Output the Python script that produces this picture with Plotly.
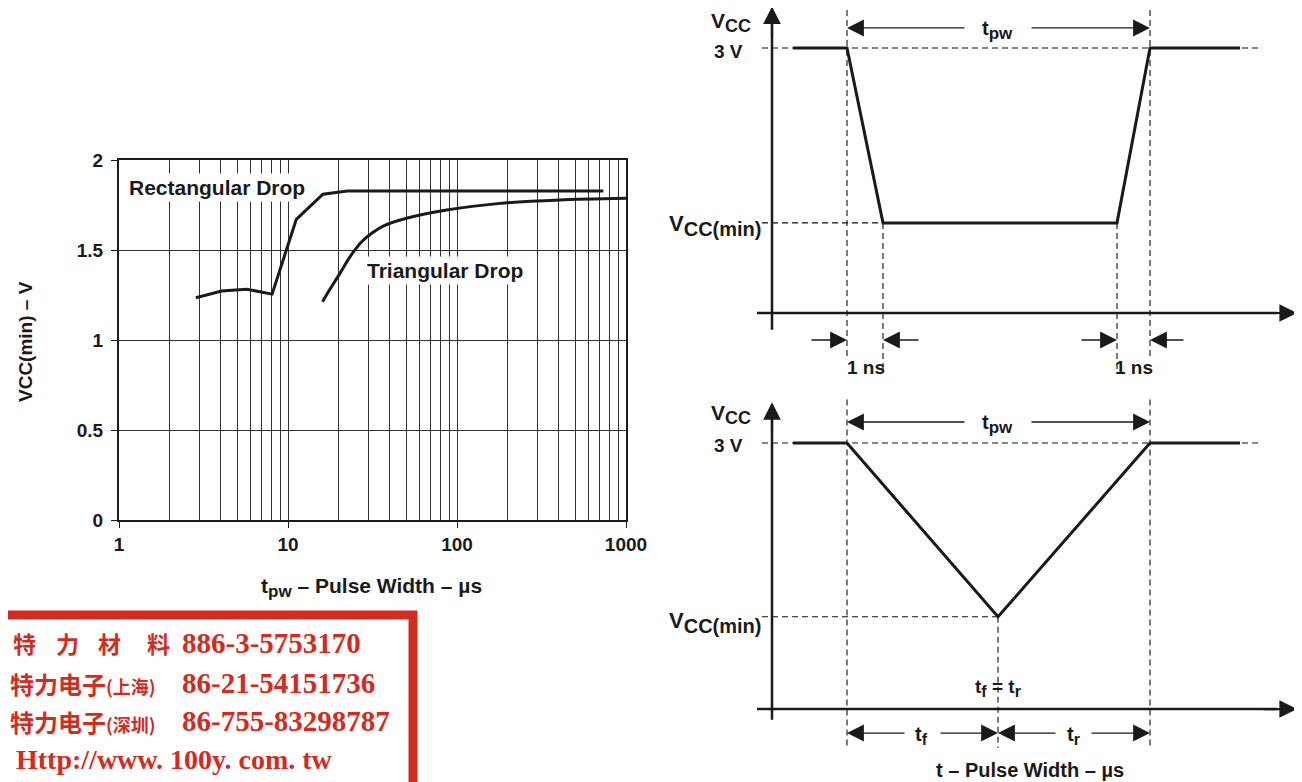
import plotly.graph_objects as go

W, H = 1302, 782
OX, OY = 8, 8  # page offset of the figure inside the browser window

# ---------------- Left chart data ----------------
rect_tpw = [2.85, 4.05, 5.7, 8.05, 11.2, 16.1, 22.5, 735]
rect_vcc = [1.235, 1.272, 1.282, 1.255, 1.67, 1.81, 1.828, 1.828]

tri_tpw = [16.0, 17.7, 20.3, 23.3, 27.3, 31.3, 36.6, 50.3, 86.9, 180, 406, 1000]
tri_vcc = [1.213, 1.282, 1.37, 1.463, 1.546, 1.593, 1.633, 1.676, 1.722, 1.759, 1.778, 1.787]

x_tickvals = [1, 10, 100, 1000]
x_ticktext = ["1", "10", "100", "1000"]
x_minor = [2, 3, 4, 5, 6, 7, 8, 9, 20, 30, 40, 50, 60, 70, 80, 90,
           200, 300, 400, 500, 600, 700, 800, 900]
y_tickvals = [0, 0.5, 1, 1.5, 2]
y_ticktext = ["0", "0.5", "1", "1.5", "2"]

# ---------------- Right diagrams data (time units / volts) ----------------
V_HIGH = 3.0
# top: rectangular drop
rect_wave_t = [21, 75, 111, 345, 378, 468]
rect_vmin = 1.02
rect_wave_v = [V_HIGH, V_HIGH, rect_vmin, rect_vmin, V_HIGH, V_HIGH]
# bottom: triangular drop
tri_wave_t = [21, 75, 226, 378, 468]
tri_vmin = 1.04
tri_wave_v = [V_HIGH, V_HIGH, tri_vmin, V_HIGH, V_HIGH]

T_AXIS_END = 525
T_PULSE_START, T_PULSE_END = 75, 378
T_RECT_FALL_END, T_RECT_RISE_START = 111, 345
T_TRI_MIN = 226

FONT = "Liberation Sans, Arial, sans-serif"
BLACK = "#1a1a1a"

fig = go.Figure()

# ---- left chart traces
fig.add_trace(go.Scatter(x=rect_tpw, y=rect_vcc, mode="lines",
                         line=dict(color=BLACK, width=3), xaxis="x", yaxis="y",
                         showlegend=False, hoverinfo="skip"))
fig.add_trace(go.Scatter(x=tri_tpw, y=tri_vcc, mode="lines",
                         line=dict(color=BLACK, width=3, shape="spline", smoothing=0.8),
                         xaxis="x", yaxis="y", showlegend=False, hoverinfo="skip"))

DASH = dict(color="#111", width=1.1, dash="6px,4px")


def dline(t, v, ax):
    fig.add_trace(go.Scatter(x=t, y=v, mode="lines", line=DASH,
                             xaxis="x" + ax, yaxis="y" + ax,
                             showlegend=False, hoverinfo="skip"))


def solid(t, v, ax, width=3):
    fig.add_trace(go.Scatter(x=t, y=v, mode="lines", line=dict(color=BLACK, width=width),
                             xaxis="x" + ax, yaxis="y" + ax,
                             showlegend=False, hoverinfo="skip"))


# ---- top diagram
dline([-10, 488], [V_HIGH, V_HIGH], "2")
dline([-10, T_RECT_FALL_END], [rect_vmin, rect_vmin], "2")
dline([T_PULSE_START, T_PULSE_START], [3.43, -0.53], "2")
dline([T_PULSE_END, T_PULSE_END], [3.43, -0.53], "2")
dline([T_RECT_FALL_END, T_RECT_FALL_END], [rect_vmin, -0.67], "2")
dline([T_RECT_RISE_START, T_RECT_RISE_START], [rect_vmin, -0.67], "2")
solid(rect_wave_t, rect_wave_v, "2", 3)
solid([0, 0], [-0.19, 3.3], "2", 2.5)
solid([-15, 505], [0, 0], "2", 2.5)

# ---- bottom diagram
dline([-10, 488], [V_HIGH, V_HIGH], "3")
dline([-10, T_TRI_MIN], [tri_vmin, tri_vmin], "3")
dline([T_PULSE_START, T_PULSE_START], [3.49, -0.44], "3")
dline([T_PULSE_END, T_PULSE_END], [3.49, -0.44], "3")
dline([T_TRI_MIN, T_TRI_MIN], [tri_vmin, -0.44], "3")
solid(tri_wave_t, tri_wave_v, "3", 3)
solid([0, 0], [-0.12, 3.3], "3", 2.5)
solid([-15, 505], [0, 0], "3", 2.5)

ann = []


def P(px, py):
    return (px - OX) / W, 1 - (py - OY) / H


def text_px(px, py, s, size=16, xanchor="center", bg=None, color=BLACK, family=FONT,
            weight="bold", textangle=0):
    x, y = P(px, py)
    d = dict(x=x, y=y, xref="paper", yref="paper", text=s, showarrow=False,
             xanchor=xanchor, yanchor="middle", textangle=textangle,
             font=dict(family=family, size=size, color=color, weight=weight))
    if bg:
        d["bgcolor"] = bg
        d["borderpad"] = 2
    ann.append(d)


def text_d(t, v, s, ax, size=19, xanchor="center", bg=None):
    d = dict(x=t, y=v, xref="x" + ax, yref="y" + ax, text=s, showarrow=False,
             xanchor=xanchor, yanchor="middle",
             font=dict(family=FONT, size=size, color=BLACK, weight="bold"))
    if bg:
        d["bgcolor"] = bg
        d["borderpad"] = 1
    ann.append(d)


def arrow(t0, v0, t1, v1, ax, width=1.3, size=2.6, head=2):
    ann.append(dict(x=t1, y=v1, ax=t0, ay=v0, xref="x" + ax, yref="y" + ax,
                    axref="x" + ax, ayref="y" + ax, text="", showarrow=True,
                    arrowhead=head, arrowwidth=width, arrowsize=size,
                    arrowcolor=BLACK, standoff=0, startstandoff=0))


def sub(s, px=15):
    return "<sub><span style='font-size:%dpx'>%s</span></sub>" % (px, s)


# ---- left chart labels
text_px(217, 187, "Rectangular Drop", size=21, bg="white")
text_px(445, 270, "Triangular Drop", size=21, bg="white")
text_px(25, 342, "VCC(min) – V", size=19, textangle=-90)
text_px(372, 587, "t" + sub("pw", 17) + " – Pulse Width – µs", size=21)

# ---- top diagram
arrow(0, 3.1, 0, 3.47, "2", width=2.2, size=1.6)
arrow(490, 0, T_AXIS_END, 0, "2", width=2.2, size=1.6)
arrow(194, 3.227, T_PULSE_START, 3.227, "2")
arrow(258, 3.227, T_PULSE_END, 3.227, "2")
text_d(226, 3.204, "t" + sub("pw", 17), "2", size=20)
text_d(-19, 3.294, "V" + sub("CC", 18), "2", size=21, xanchor="right")
text_d(-27, 2.955, "3 V", "2", size=19, xanchor="right")
text_d(-9, 0.985, "V" + sub("CC(min)", 20), "2", size=22, xanchor="right")
arrow(38, -0.306, T_PULSE_START, -0.306, "2")
arrow(148, -0.306, T_RECT_FALL_END, -0.306, "2")
arrow(308, -0.306, T_RECT_RISE_START, -0.306, "2")
arrow(413, -0.306, T_PULSE_END, -0.306, "2")
text_d(94, -0.62, "1 ns", "2", size=19)
text_d(362, -0.62, "1 ns", "2", size=19)

# ---- bottom diagram
arrow(0, 3.1, 0, 3.46, "3", width=2.2, size=1.6)
arrow(490, 0, T_AXIS_END, 0, "3", width=2.2, size=1.6)
arrow(194, 3.237, T_PULSE_START, 3.237, "3")
arrow(258, 3.237, T_PULSE_END, 3.237, "3")
text_d(226, 3.214, "t" + sub("pw", 17), "3", size=20)
text_d(-19, 3.327, "V" + sub("CC", 18), "3", size=21, xanchor="right")
text_d(-27, 2.977, "3 V", "3", size=19, xanchor="right")
text_d(-9, 0.981, "V" + sub("CC(min)", 20), "3", size=22, xanchor="right")
text_d(T_TRI_MIN, 0.237, "t" + sub("f", 16) + " = t" + sub("r", 16), "3", size=19)
arrow(134, -0.271, T_PULSE_START, -0.271, "3")
arrow(167, -0.271, T_TRI_MIN, -0.271, "3")
arrow(285, -0.271, T_TRI_MIN, -0.271, "3")
arrow(318, -0.271, T_PULSE_END, -0.271, "3")
text_d(150, -0.293, "t" + sub("f", 16), "3", size=20)
text_d(301, -0.293, "t" + sub("r", 16), "3", size=20)
text_d(258, -0.688, "t – Pulse Width – µs", "3", size=20)

# ---- red contact box
RED = "#d52b1e"
SERIF = "Liberation Serif, Noto Sans CJK SC, serif"
CJK = "Noto Sans CJK SC, sans-serif"
for cx, ch in zip([24, 67, 109, 158], ["特", "力", "材", "料"]):
    text_px(cx, 643, ch, size=23, color=RED, family=CJK, weight="bold")
text_px(180, 643, "886-3-5753170", size=29, xanchor="left", color=RED, family=SERIF)
text_px(8, 683, "特力电子<span style='font-size:18px'>(上海)</span>", size=24, xanchor="left",
        color=RED, family=CJK, weight="bold")
text_px(180, 683, "86-21-54151736", size=29, xanchor="left", color=RED, family=SERIF)
text_px(8, 721, "特力电子<span style='font-size:18px'>(深圳)</span>", size=24, xanchor="left",
        color=RED, family=CJK, weight="bold")
text_px(180, 721, "86-755-83298787", size=29, xanchor="left", color=RED, family=SERIF)
text_px(14, 759, "Http://www. 100y. com. tw", size=28, xanchor="left", color=RED, family=SERIF)

bx0, by1 = P(-10, 615)
bx1, by0 = P(413, 800)
shapes = [dict(type="rect", xref="paper", yref="paper",
               x0=bx0, x1=bx1, y0=by0, y1=by1,
               line=dict(color=RED, width=9), fillcolor="rgba(0,0,0,0)", layer="below")]

tickfont = dict(family=FONT, size=19, color=BLACK, weight="bold")

lx0, ly1 = P(119, 160)
lx1, ly0 = P(626, 520)
rx0, top_y = P(700, 390)

fig.update_layout(
    width=W, height=H, margin=dict(l=0, r=0, t=0, b=0, autoexpand=False),
    autosize=False,
    paper_bgcolor="white", plot_bgcolor="white", showlegend=False,
    xaxis=dict(type="log", range=[0, 3], domain=[lx0, lx1], anchor="y",
               tickmode="array", tickvals=x_tickvals, ticktext=x_ticktext,
               tickfont=tickfont, ticks="outside", ticklen=6, tickcolor=BLACK,
               showgrid=True, gridcolor="#333", gridwidth=1,
               minor=dict(tickmode="array", tickvals=x_minor, showgrid=True,
                          gridcolor="#333", gridwidth=1, ticks=""),
               showline=True, linecolor=BLACK, linewidth=2, mirror=True,
               zeroline=False, fixedrange=True, automargin=False),
    yaxis=dict(range=[0, 2], domain=[ly0, ly1], anchor="x",
               tickmode="array", tickvals=y_tickvals, ticktext=y_ticktext,
               tickfont=tickfont, ticks="outside", ticklen=6, tickcolor=BLACK,
               showgrid=True, gridcolor="#333", gridwidth=1, ticklabelstandoff=4,
               showline=True, linecolor=BLACK, linewidth=2, mirror=True,
               zeroline=False, fixedrange=True, automargin=False),
    xaxis2=dict(range=[-72, 538], domain=[rx0, 1], anchor="y2", visible=False,
                fixedrange=True, automargin=False),
    yaxis2=dict(range=[-0.872, 3.453], domain=[top_y, 1], anchor="x2", visible=False,
                fixedrange=True, automargin=False),
    xaxis3=dict(range=[-72, 538], domain=[rx0, 1], anchor="y3", visible=False,
                fixedrange=True, automargin=False),
    yaxis3=dict(range=[-0.913, 3.598], domain=[0, top_y], anchor="x3", visible=False,
                fixedrange=True, automargin=False),
    annotations=ann, shapes=shapes,
)

fig.write_html("out.html")
